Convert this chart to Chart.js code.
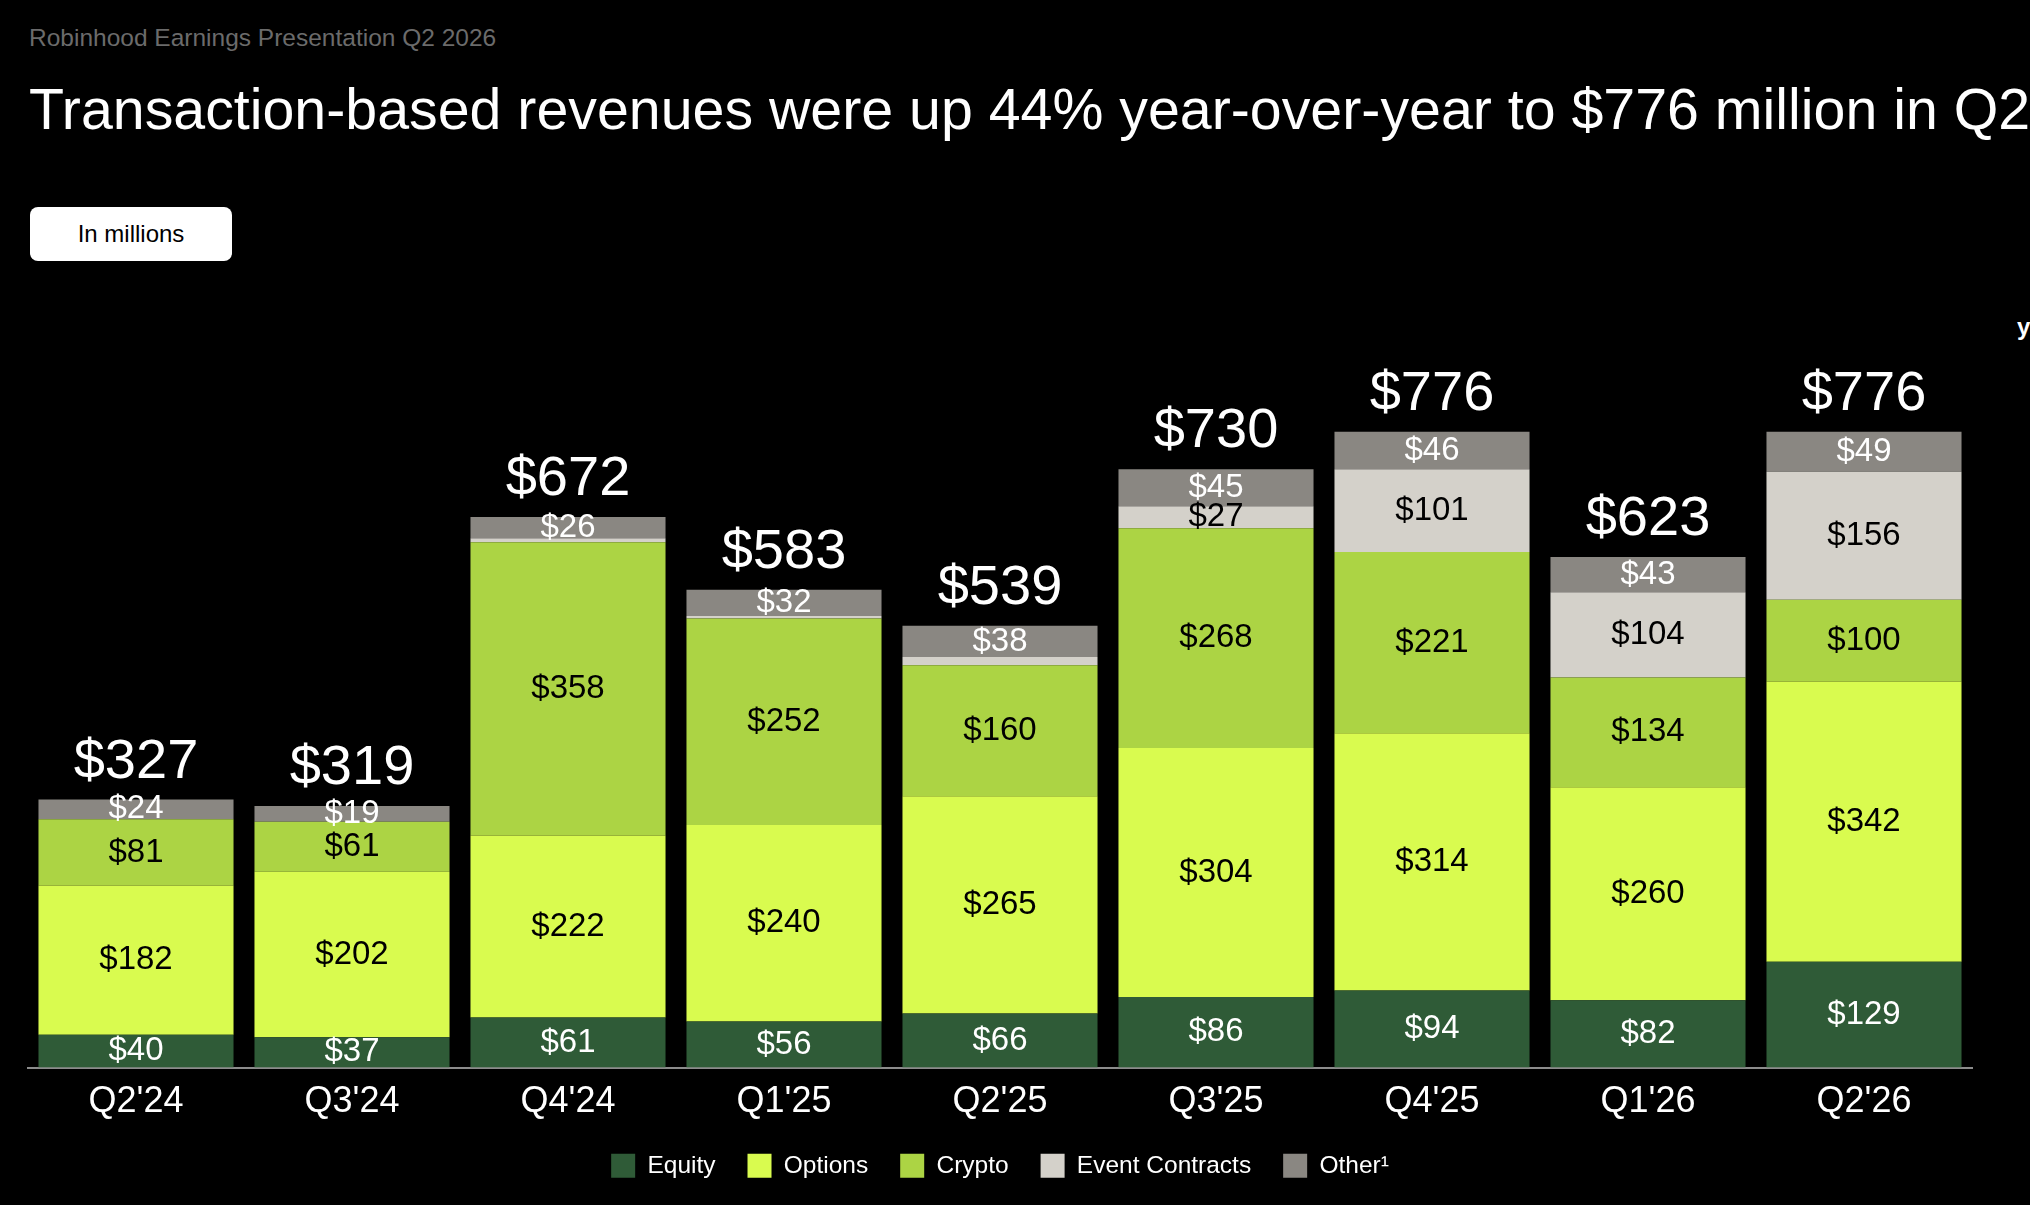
<!DOCTYPE html>
<html lang="en">
<head>
    <meta charset="UTF-8">
    <title>Transaction-based revenues</title>
    <script src="https://cdn.jsdelivr.net/npm/chart.js@4.4.1/dist/chart.umd.min.js"></script>
    <style>
        html, body { margin: 0; padding: 0; background: #000; }
        body { width: 2030px; height: 1205px; overflow: hidden; position: relative; font-family: "Liberation Sans", Arial, sans-serif; }
        #myChart { position: absolute; left: 0; top: 0; }
        .header { position: absolute; left: 29px; top: 26px; font-size: 24.5px; line-height: 1; color: #6b6b6b; white-space: nowrap; }
        .title { position: absolute; left: 29px; top: 81px; font-size: 57.3px; line-height: 1; color: #fff; white-space: nowrap; }
        .badge { position: absolute; left: 30px; top: 207px; width: 202px; height: 54px; border-radius: 8px; background: #fff; color: #000;
                 font-size: 24px; display: flex; align-items: center; justify-content: center; }
        .side { position: absolute; left: 2017px; top: 315px; font-size: 24px; line-height: 1; font-weight: bold; color: #fff; white-space: nowrap; }
    </style>
</head>
<body>
 <div class="header">Robinhood Earnings Presentation Q2 2026</div>
 <div class="title">Transaction-based revenues were up 44% year-over-year to $776 million in Q2 2026</div>
 <div class="badge">In millions</div>
 <div class="side">year-over-year</div>
 <canvas id="myChart" width="2030" height="1205"></canvas>
 <script>
    const quarters = ["Q2'24", "Q3'24", "Q4'24", "Q1'25", "Q2'25", "Q3'25", "Q4'25", "Q1'26", "Q2'26"];
    const equity = [40, 37, 61, 56, 66, 86, 94, 82, 129];
    const options = [182, 202, 222, 240, 265, 304, 314, 260, 342];
    const crypto = [81, 61, 358, 252, 160, 268, 221, 134, 100];
    const eventContracts = [0, 0, 5, 3, 10, 27, 101, 104, 156];
    const other = [24, 19, 26, 32, 38, 45, 46, 43, 49];
    const totals = [327, 319, 672, 583, 539, 730, 776, 623, 776];

    const FONT = '"Liberation Sans", Arial, sans-serif';

    // segment values in the middle of each piece, totals above the stack
    const barLabels = {
      id: 'barLabels',
      afterDatasetsDraw(chart) {
        const ctx = chart.ctx;
        ctx.save();
        ctx.textAlign = 'center';
        ctx.textBaseline = 'middle';
        ctx.font = '33px ' + FONT;
        chart.data.datasets.forEach((ds, i) => {
          const meta = chart.getDatasetMeta(i);
          ctx.fillStyle = ds.labelColor;
          meta.data.forEach((bar, j) => {
            const v = ds.data[j];
            if (v < ds.labelMin) return;
            ctx.fillText('$' + v, bar.x, (bar.y + bar.base) / 2);
          });
        });
        const top = chart.getDatasetMeta(chart.data.datasets.length - 1);
        ctx.font = '56px ' + FONT;
        ctx.fillStyle = '#fff';
        ctx.textBaseline = 'alphabetic';
        top.data.forEach((bar, j) => {
          ctx.fillText('$' + totals[j], bar.x, bar.y - 22);
        });
        ctx.restore();
      }
    };

    Chart.defaults.font.family = FONT;

    const ctx = document.getElementById('myChart').getContext('2d');
    const myChart = new Chart(ctx, {
      type: 'bar',
      data: {
        labels: quarters,
        datasets: [
          { label: 'Equity', data: equity, backgroundColor: '#2f5b37', labelColor: '#fff', labelMin: 1 },
          { label: 'Options', data: options, backgroundColor: '#d9fb4f', labelColor: '#000', labelMin: 1 },
          { label: 'Crypto', data: crypto, backgroundColor: '#acd444', labelColor: '#000', labelMin: 1 },
          { label: 'Event Contracts', data: eventContracts, backgroundColor: '#d4d1ca', labelColor: '#000', labelMin: 20 },
          { label: 'Other\u00b9', data: other, backgroundColor: '#8a8782', labelColor: '#fff', labelMin: 1 }
        ]
      },
      options: {
        responsive: false,
        animation: false,
        devicePixelRatio: 1,
        datasets: {
          bar: { categoryPercentage: 1, barPercentage: 0.903, borderWidth: 0 }
        },
        layout: {
          padding: { left: 28, right: 58, top: 412, bottom: 17 }
        },
        scales: {
          x: {
            stacked: true,
            grid: { display: true, drawOnChartArea: false, drawTicks: false, color: 'transparent' },
            border: { display: true, color: '#8c8c8c', width: 2 },
            ticks: { color: '#fff', font: { size: 36 }, padding: 13 },
            afterFit: (scale) => { scale.height = 54; }
          },
          y: {
            stacked: true,
            display: false,
            min: 0,
            max: 800
          }
        },
        plugins: {
          tooltip: { enabled: false },
          legend: {
            display: true,
            position: 'bottom',
            labels: {
              color: '#fff',
              font: { size: 24.5 },
              boxWidth: 24,
              boxHeight: 24,
              padding: 32
            }
          }
        }
      },
      plugins: [barLabels]
    });
 </script>
</body>
</html>
